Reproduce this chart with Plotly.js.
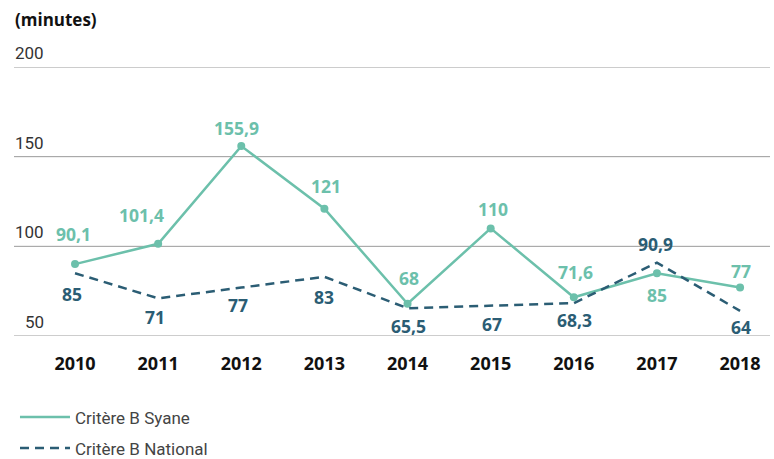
<!DOCTYPE html>
<html>
<head>
<meta charset="utf-8">
<script src="https://cdn.plot.ly/plotly-3.0.1.min.js"></script>
<style>html,body{margin:0;padding:0;background:#fff}#chart{width:774px;height:459px}</style>
</head>
<body>
<div id="chart"></div>
<script>
var years = [2010, 2011, 2012, 2013, 2014, 2015, 2016, 2017, 2018];
var syane = [90.1, 101.4, 155.9, 121, 68, 110, 71.6, 85, 77];
var national = [85, 71, 77, 83, 65.5, 67, 68.3, 90.9, 64];
var syaneLabels = ['90,1', '101,4', '155,9', '121', '68', '110', '71,6', '85', '77'];
var nationalLabels = ['85', '71', '77', '83', '65,5', '67', '68,3', '90,9', '64'];
var yTicks = [50, 100, 150, 200];

var teal = '#6cc0ab';
var navy = '#2b5d74';
var font = 'Open Sans, sans-serif';
var font2 = 'Roboto, sans-serif';

// label offsets in pixels (style only)
var syaneOff = [[-2, 30], [-17, 29], [-5, 18], [2, 23], [1, 26], [2, 19], [2, 25], [0, -22], [1, 17]];
var nationalOff = [[-3, -21], [-3, -19], [-3, -17], [0, -20], [1, -18], [1, -18], [1, -17], [-1, 19], [1, -16]];

var traces = [
  {x: years, y: syane, type: 'scatter', mode: 'lines+markers', name: 'Critère B Syane', showlegend: false,
   line: {color: teal, width: 2.5}, marker: {color: teal, size: 8}},
  {x: [null], y: [null], type: 'scatter', mode: 'lines', name: 'Critère B Syane', legendgroup: 'a',
   line: {color: teal, width: 2.5}},
  {x: years, y: national, type: 'scatter', mode: 'lines', name: 'Critère B National',
   line: {color: navy, width: 2.5, dash: '9px,6px'}, legendgroup: 'b'}
];

var ann = [];
years.forEach(function (yr, i) {
  ann.push({x: yr, y: syane[i], xref: 'x', yref: 'y', text: '<b>' + syaneLabels[i] + '</b>', showarrow: false,
    xshift: syaneOff[i][0], yshift: syaneOff[i][1], font: {family: font, size: 17.5, color: teal}});
  ann.push({x: yr, y: national[i], xref: 'x', yref: 'y', text: '<b>' + nationalLabels[i] + '</b>', showarrow: false,
    xshift: nationalOff[i][0], yshift: nationalOff[i][1], font: {family: font, size: 17.5, color: navy}});
});
yTicks.forEach(function (t) {
  ann.push({x: 0.0423, y: t, xref: 'paper', yref: 'y', text: String(t), showarrow: false,
    xanchor: 'right', yanchor: 'middle', yshift: 14, font: {family: font2, size: 17, color: '#333'}});
});

var shapes = yTicks.map(function (t) {
  return {type: 'line', xref: 'paper', yref: 'y', x0: 0, x1: 1, y0: t, y1: t, line: {color: '#9a9a9a', width: 1}, layer: 'below'};
});

var layout = {
  width: 774, height: 459,
  margin: {l: 14, r: 4, t: 67, b: 123, autoexpand: false},
  paper_bgcolor: '#fff', plot_bgcolor: '#fff',
  title: {text: '<b>(minutes)</b>', x: 15 / 774, xanchor: 'left', xref: 'container',
    y: 1 - 20 / 459, yanchor: 'middle', yref: 'container', font: {family: font, size: 17, color: '#111'}},
  xaxis: {range: [2009.266, 2018.36], tickvals: years, ticktext: years.map(function (y) { return '<b>' + y + '</b>'; }),
    showgrid: false, zeroline: false, showline: false, ticks: '', ticklabelstandoff: 15,
    tickfont: {family: font, size: 18, color: '#111'}, fixedrange: true, automargin: false},
  yaxis: {range: [50, 200], tickvals: yTicks, showticklabels: false, showgrid: false,
    zeroline: false, showline: false, ticks: '', fixedrange: true, automargin: false},
  showlegend: true,
  legend: {x: 0.0013, xanchor: 'left', y: -0.485, yanchor: 'bottom',
    orientation: 'v', traceorder: 'grouped', itemwidth: 50,
    tracegroupgap: 6, font: {family: font2, size: 17, color: '#444'}, bgcolor: 'rgba(0,0,0,0)'},
  shapes: shapes,
  annotations: ann
};

Plotly.newPlot('chart', traces, layout, {displayModeBar: false, staticPlot: true});
</script>
</body>
</html>
